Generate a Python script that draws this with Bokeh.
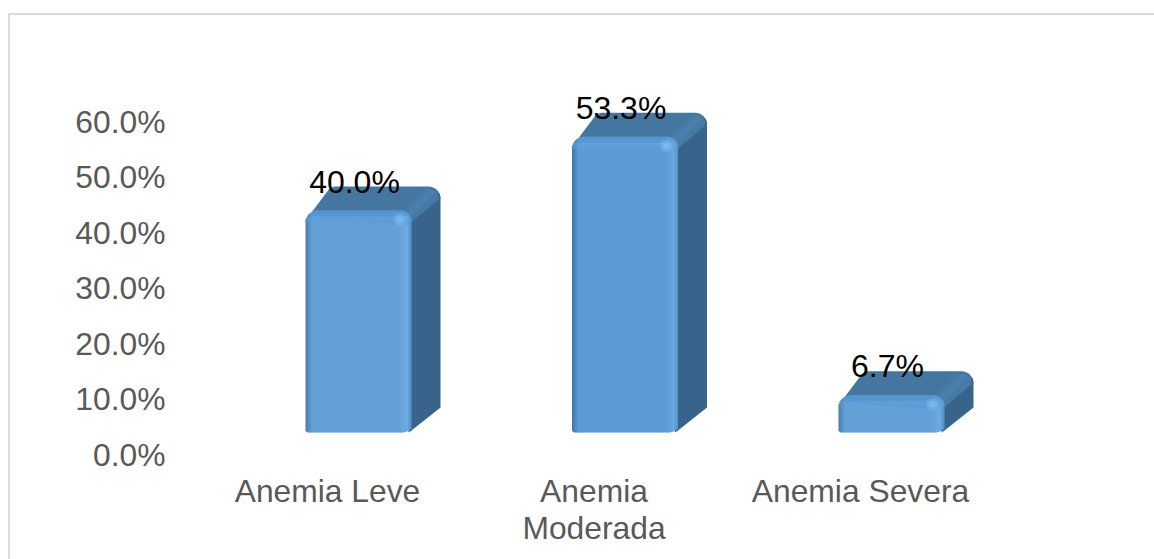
import math
from bokeh.core.properties import value
from bokeh.embed import file_html
from bokeh.models import FixedTicker, LinearAxis, NumeralTickFormatter, Range1d
from bokeh.plotting import figure
from bokeh.resources import INLINE

categories = ["Anemia Leve", "Anemia\nModerada", "Anemia Severa"]
values = [0.400, 0.533, 0.067]
labels = ["40.0%", "53.3%", "6.7%"]
y_ticks = [0.0, 0.1, 0.2, 0.3, 0.4, 0.5, 0.6]

W, H = 1154, 559
L, R, T, B = 170, 1154, 0, 454          # frame edges in page pixels
PX_X, PX_Y = 266.5, 555.0               # pixels per data unit
X0 = 327                                # pixel of first category

p = figure(width=W, height=H, output_backend="svg", toolbar_location=None,
           x_range=Range1d((L - X0) / PX_X, (R - X0) / PX_X),
           y_range=Range1d(0, (B - T) / PX_Y),
           min_border_left=L, min_border_right=W - R, min_border_top=T, min_border_bottom=H - B,
           outline_line_color=None, background_fill_color="white", border_fill_color="white")
p.grid.visible = False
# chart-area border, which runs outside the plotting frame
p.stylesheets = [":host::before{content:'';position:absolute;left:8px;top:13px;right:0;bottom:0;"
                 "border-left:2px solid #d9d9d9;border-top:2px solid #d9d9d9;z-index:10;"
                 "pointer-events:none}"]

xa2 = LinearAxis()
p.add_layout(xa2, "below")
xa, ya = p.below[0], p.yaxis[0]
for a in (xa, xa2, ya):
    a.axis_line_color = None
    a.major_tick_line_color = None
    a.minor_tick_line_color = None
    a.major_tick_out = 0
    a.major_tick_in = 0
    a.minor_tick_out = 0
    a.minor_tick_in = 0
    a.major_label_text_color = "#595959"
    a.major_label_text_font = "Liberation Sans"
    a.major_label_text_font_size = "31.8px"
ticks = list(range(len(categories)))
xa.ticker = FixedTicker(ticks=ticks)
xa.major_label_overrides = {i: c.split("\n")[0] for i, c in enumerate(categories)}
xa.major_label_standoff = 18
second = {i: c.split("\n")[1] for i, c in enumerate(categories) if "\n" in c}
xa2.ticker = FixedTicker(ticks=list(second))
xa2.major_label_overrides = second
xa2.major_label_standoff = -2
ya.ticker = FixedTicker(ticks=y_ticks)
ya.formatter = NumeralTickFormatter(format="0.0%")
ya.major_label_standoff = 5

FRONT_L, FRONT_W = -22, 106
LIFT = 22          # front-face base above the axis zero
DX, DY = 29, 24    # depth of the 3-D bar
RAD = 12


def hexmix(a, b, t):
    ca = [int(a[i:i + 2], 16) for i in (1, 3, 5)]
    cb = [int(b[i:i + 2], 16) for i in (1, 3, 5)]
    return "#%02x%02x%02x" % tuple(round(u + (v - u) * t) for u, v in zip(ca, cb))


def col_colour(d):
    """Horizontal shading across the front face, d in pixels from the left."""
    base, edge, light = "#5b9bd5", "#4278a8", "#65a7e2"
    if d < 6:
        return hexmix(edge, base, d / 6)
    if d < FRONT_W - 14:
        return base
    if d < FRONT_W - 5:
        return hexmix(base, light, (d - (FRONT_W - 14)) / 9)
    return hexmix(light, "#5590c6", (d - (FRONT_W - 5)) / 5)


def arc(cx, cy, r, a0, a1, n=8):
    return [(cx + r * math.cos(math.radians(a0 + (a1 - a0) * k / n)),
             cy + r * math.sin(math.radians(a0 + (a1 - a0) * k / n))) for k in range(n + 1)]


for i, v in enumerate(values):
    ax = lambda px: i + (FRONT_L + px) / PX_X
    h = v * PX_Y                        # front-face height in pixels
    ay = lambda py: (LIFT + py) / PX_Y  # py measured upward from the base
    xr, yt = FRONT_W + DX, h + DY

    def poly(pts, colour):
        p.patch([ax(a) for a, _ in pts], [ay(b) for _, b in pts], fill_color=colour, line_color=None)

    # top face with its rounded back corner
    poly([(1, h - 8), (6, h - 2), (24, yt - 2), (29, yt), (xr - 12, yt)]
         + arc(xr - 12, yt - 12, 12, 90, 0) + [(FRONT_W, h - 14)], "#44769f")
    # side face
    poly([(FRONT_W - 3, h - 12), (xr - 4, yt - 8)] + arc(xr - 12, yt - 12, 12, 30, 0, 3)
         + [(xr, DY + 1), (FRONT_W, 2), (FRONT_W - 3, 0)], "#38648c")
    # lighter ridge between top and side
    poly([(FRONT_W - 12, h - 2), (xr - 15, yt - 1), (xr - 6, yt - 3), (xr - 2, yt - 8),
          (xr - 2, yt - 13), (FRONT_W, h - 12)], "#457aa4")
    poly([(FRONT_W - 7, h - 2), (xr - 11, yt - 2), (xr - 5, yt - 6), (FRONT_W - 1, h - 7)], "#4a7fac")

    # front face: one-pixel columns following the rounded outline
    lefts, rights, tops, bottoms, cols = [], [], [], [], []
    for d in range(FRONT_W):
        mid = d + 0.5
        t = h
        if mid < RAD:
            t = h - (RAD - math.sqrt(RAD ** 2 - (RAD - mid) ** 2))
        elif mid > FRONT_W - RAD:
            e = mid - (FRONT_W - RAD)
            t = h - (RAD - math.sqrt(RAD ** 2 - e ** 2))
        b = 0.0
        if mid < 3:
            b = 3 - math.sqrt(9 - (3 - mid) ** 2)
        elif mid > FRONT_W - 10:
            b = (mid - (FRONT_W - 10)) ** 2 / 25
        lefts.append(ax(d)); rights.append(ax(d + (1.4 if d < FRONT_W - 1 else 1)))
        tops.append(ay(t)); bottoms.append(ay(b)); cols.append(col_colour(d))
    p.quad(left=lefts, right=rights, top=tops, bottom=bottoms, fill_color=cols, line_color=None)

    # top bevel of the front face
    band_l, band_r, band_t, band_b, band_c, band_a = [], [], [], [], [], []
    for k in range(14):
        dy = RAD - k
        inset = RAD - math.sqrt(max(RAD ** 2 - dy ** 2, 0)) if k < RAD else 0
        band_l.append(ax(inset)); band_r.append(ax(FRONT_W - inset))
        band_t.append(ay(h - k)); band_b.append(ay(h - k - 1.3))
        if k < 6:
            band_c.append("#5393cd"); band_a.append(0.5 - 0.07 * k)
        else:
            band_c.append("#66a8e4"); band_a.append(0.5 * (14 - k) / 8)
    p.quad(left=band_l, right=band_r, top=band_t, bottom=band_b, fill_color=band_c,
           fill_alpha=band_a, line_color=None)

    # specular spot at the upper right corner
    p.scatter([ax(FRONT_W - 12)] * 3, [ay(h - 9)] * 3, size=[13, 9, 5], fill_color="#8ccbfa",
              fill_alpha=0.25, line_color=None)

    p.text([i], [v], text=[labels[i]], text_font_size="32px", text_color="black",
           text_align="center", text_baseline="middle", x_offset=27, y_offset=-51,
           text_font=value("Liberation Sans"))

open("out.html", "w").write(file_html(p, INLINE))
